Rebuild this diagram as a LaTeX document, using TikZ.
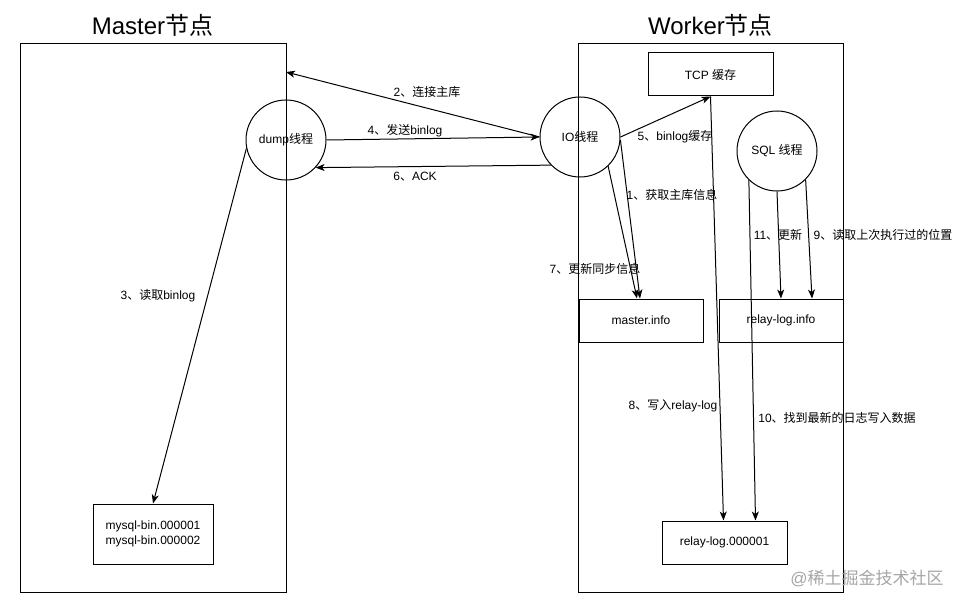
\documentclass[tikz,border=0pt]{standalone}
\usepackage{fontspec}
\setmainfont{Liberation Sans}
\newfontfamily\cjkfont{Noto Sans CJK SC}
\newcommand\zh[1]{{\cjkfont #1}}
\usetikzlibrary{arrows.meta}
\begin{document}
\begin{tikzpicture}[x=1pt,y=-1pt,
  font=\fontsize{12}{15}\selectfont,
  region/.style={draw, line width=1pt, inner sep=0pt},
  boxnode/.style={draw, line width=1pt, inner sep=0pt, align=center},
  thread/.style={draw, circle, line width=1pt, inner sep=0pt, minimum size=80pt},
  titletext/.style={font=\fontsize{24}{28}\selectfont, inner sep=0pt},
  lbl/.style={inner sep=1pt},
  arr/.style={line width=1pt, -{Stealth[length=9pt,width=7pt,inset=2.5pt]}},
  wm/.style={text=black!35, font=\fontsize{17}{20}\selectfont, inner sep=0pt}
]
\useasboundingbox[fill=white] (0,0) rectangle (966,607);

% regions and titles
\node[region, minimum width=266pt, minimum height=548pt] (masterbox) at (153,318) {};
\node[region, minimum width=265pt, minimum height=548pt] (workerbox) at (710.5,318) {};
\node[titletext] (mtitle) at (152.5,25) {Master\zh{节点}};
\node[titletext] (wtitle) at (710.5,25) {Worker\zh{节点}};

% boxes
\node[boxnode, minimum width=125pt, minimum height=43pt] (tcp) at (710.5,74.5) {TCP \zh{缓存}};
\node[boxnode, minimum width=124pt, minimum height=43pt] (minfo) at (641,320.5) {master.info};
\node[boxnode, minimum width=124pt, minimum height=43pt] (rinfo) at (781,320.5) {relay-log.info};
\node[boxnode, minimum width=125pt, minimum height=43pt] (relay) at (724.5,542.5) {relay-log.000001};
\node[boxnode, minimum width=120pt, minimum height=60pt] (mysql) at (153,534) {mysql-bin.000001\\mysql-bin.000002};

% threads
\node[thread] (dump) at (286,140) {dump\zh{线程}};
\node[thread] (io) at (580,137) {IO\zh{线程}};
\node[thread] (sql) at (777,151) {SQL \zh{线程}};

% connectors
\coordinate (mconn) at (286,72);
\draw[arr] (io.west) -- (mconn);
\draw[arr] (dump.east) -- (io.west);
\draw[arr] (io.224) -- (dump.317);
\draw[arr] (dump.192) -- (mysql.north);
\draw[arr] (io.east) -- (tcp.south);
\draw[arr] (io.-4) -- ([xshift=-1pt]minfo.north);
\draw[arr] (io.314) -- ([xshift=-4pt]minfo.north);
\draw[arr] (tcp.south) -- ([xshift=-1pt]relay.north);
\draw[arr] (sql.226) -- ([xshift=31pt]relay.north);
\draw[arr] (sql.south) -- (rinfo.north);
\draw[arr] (sql.315) -- ([xshift=31pt]rinfo.north);

% labels
\node[lbl] (l2) at (427,92) {2\zh{、连接主库}};
\node[lbl] (l4) at (405,131) {4\zh{、发送}binlog};
\node[lbl] (l6) at (415,177) {6\zh{、}ACK};
\node[lbl] (l3) at (158,296) {3\zh{、读取}binlog};
\node[lbl] (l5) at (675,137) {5\zh{、}binlog\zh{缓存}};
\node[lbl] (l1) at (672,195) {1\zh{、获取主库信息}};
\node[lbl] (l7) at (595,269) {7\zh{、更新同步信息}};
\node[lbl] (l8) at (673,406) {8\zh{、写入}relay-log};
\node[lbl] (l10) at (837,418) {10\zh{、找到最新的日志写入数据}};
\node[lbl] (l11) at (778,235) {11\zh{、更新}};
\node[lbl] (l9) at (883,235) {9\zh{、读取上次执行过的位置}};

% watermark
\node[wm] (watermark) at (867,578) {@\zh{稀土掘金技术社区}};
\end{tikzpicture}
\end{document}
